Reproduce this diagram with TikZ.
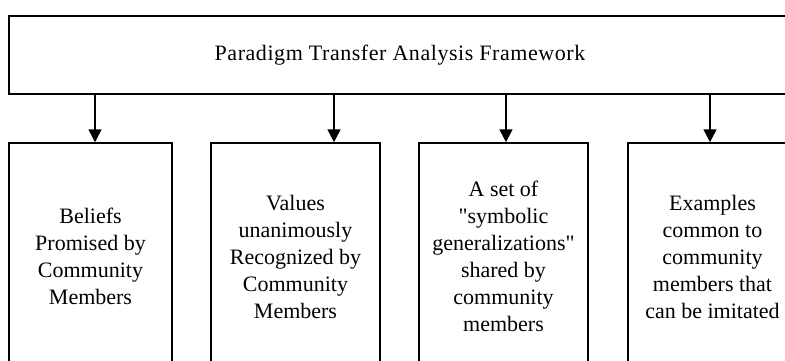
\documentclass[tikz,border=0pt]{standalone}
\usepackage{fontspec}
\setmainfont{Liberation Serif}[Ligatures=TeXOff]
\usetikzlibrary{arrows.meta}
\begin{document}
\begin{tikzpicture}[x=1pt,y=1pt,
  box/.style={draw=black,line width=1.5pt,fill=white,inner sep=0pt,align=center,
    font=\fontsize{22}{27}\selectfont},
  arr/.style={line width=1.5pt,-{Triangle[width=13pt,length=13pt]}}]
\useasboundingbox (0,0) rectangle (785,360);
\fill[white] (0,0) rectangle (785,360);
\begin{scope}
\clip (0,0) rectangle (785,360);
\node[box,minimum width=782pt,minimum height=78pt] (top) at (400,305) {\addfontfeature{LetterSpace=2.5}Paradigm Transfer Analysis Framework};
\node[box,minimum width=163pt,minimum height=227pt] (b1) at (90.5,103.5) {Beliefs\\Promised by\\Community\\Members};
\node[box,minimum width=169pt,minimum height=227pt] (b2) at (295.5,103.5) {Values\\unanimously\\Recognized by\\Community\\Members};
\node[box,minimum width=169pt,minimum height=227pt] (b3) at (503.5,103.5) {A set of\\"symbolic\\generalizations"\\shared by\\community\\members};
\node[box,minimum width=169pt,minimum height=227pt] (b4) at (712.5,103.5) {Examples\\common to\\community\\members that\\can be imitated};
\coordinate (x1) at (95,0);
\coordinate (x2) at (334,0);
\coordinate (x3) at (506,0);
\coordinate (x4) at (710,0);
\draw[arr] (top.south -| x1) -- (b1.north -| x1);
\draw[arr] (top.south -| x2) -- (b2.north -| x2);
\draw[arr] (top.south -| x3) -- (b3.north -| x3);
\draw[arr] (top.south -| x4) -- (b4.north -| x4);
\end{scope}
\end{tikzpicture}
\end{document}
